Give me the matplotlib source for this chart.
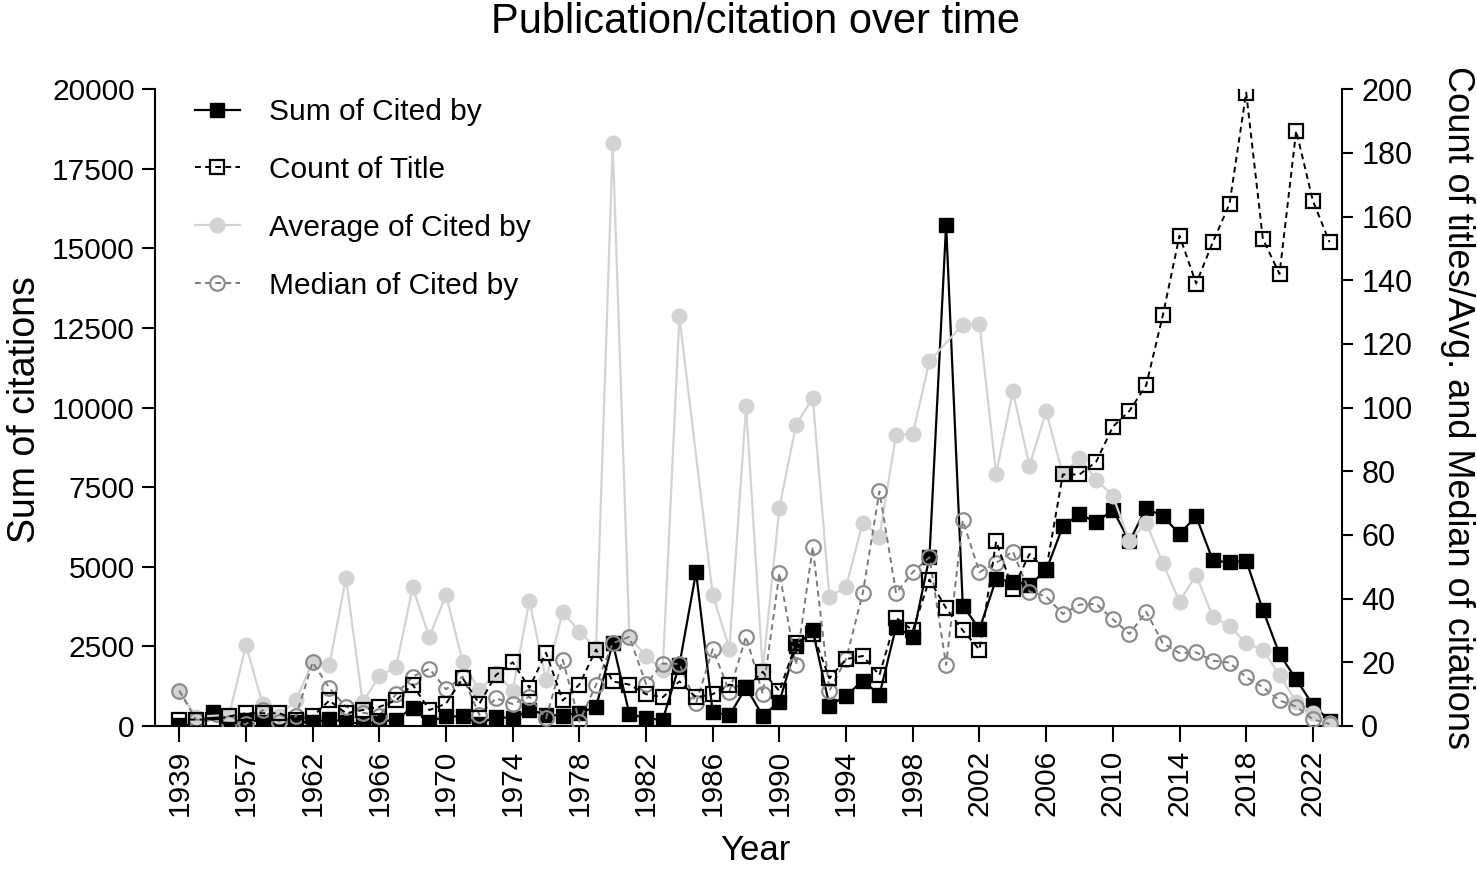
import numpy as np
import matplotlib
matplotlib.use("Agg")
import matplotlib.pyplot as plt

plt.rcParams["font.family"] = ["Liberation Sans", "DejaVu Sans"]

# categories (years with at least one paper)
years = [1939, 1947, 1952, 1955, 1957, 1958, 1959, 1960] + list(range(1962, 2024))

# left axis: total citations per year
sum_cited = [22, 30, 440, 135, 190, 135, 135, 120, 120, 210,
             135, 60, 135, 190, 580, 135, 300, 300, 70, 290,
             240, 500, 360, 315, 420, 588, 2620, 377, 242, 190,
             1919, 4830, 430, 330, 1217, 315, 765, 2520, 3000, 640,
             945, 1425, 975, 3120, 2790, 5305, 15750, 3784, 3040, 4613,
             4538, 4434, 4884, 6268, 6667, 6395, 6793, 5797, 6846, 6583,
             6038, 6583, 5200, 5137, 5190, 3648, 2254, 1468, 660, 167]

# right axis: number of titles
count_title = [2, 2, 2, 3, 4, 4, 4, 2, 3, 8,
               4, 5, 6, 8, 13, 5, 7, 15, 7, 16,
               20, 12, 23, 8, 13, 24, 14, 13, 10, 9,
               14, 9, 10, 13, 12, 17, 11, 26, 29, 15,
               21, 22, 16, 34, 30, 46, 37, 30, 24, 58,
               43, 54, 49, 79, 79, 83, 94, 99, 107, 129,
               154, 139, 152, 164, 199, 153, 142, 187, 165, 152]

# right axis: average citations (nan = not shown on chart)
avg_cited = [11.1, 2.9, np.nan, 3.5, 25.4, 6.9, 3.0, 8.2, 20.1, 19.1,
             46.4, 7.4, 15.7, 18.4, 43.6, 27.9, 41.2, 20.1, 11.2, 16.5,
             11.1, 39.4, 14.5, 35.9, 29.6, 24.4, 183.2, 27.9, 22.0, 17.5,
             128.7, np.nan, 41.2, 24.3, 100.4, 17.5, 68.6, 94.7, 103.0, 40.5,
             43.8, 63.9, 59.5, 91.5, 91.7, 114.6, np.nan, 126.1, 126.4, 79.2,
             105.1, 81.8, 98.8, 79.0, 84.2, 77.4, 72.3, 58.0, 63.9, 51.2,
             39.1, 47.5, 34.2, 31.4, 26.0, 23.9, 16.0, 7.6, 4.0, 0.8]

# right axis: median citations
median_cited = [11.1, 2.0, np.nan, 1.0, 0.5, 5.0, 1.4, 3.0, 20.0, 11.9,
                6.0, 4.2, 3.2, 10.0, 15.5, 18.0, 11.5, 15.5, 3.5, 8.7,
                6.9, 9.2, 2.4, 20.8, 1.4, 12.9, 26.0, 28.0, 13.2, 19.6,
                19.5, 7.2, 24.1, 10.8, 28.1, 10.1, 48.0, 19.2, 56.2, 11.1,
                21.0, 41.7, 73.7, 41.7, 48.3, 53.0, 19.2, 64.6, 48.3, 51.2,
                54.8, 42.2, 40.7, 35.2, 38.1, 38.4, 33.5, 28.9, 35.9, 26.0,
                22.9, 23.1, 20.5, 19.9, 15.3, 12.2, 8.0, 6.1, 2.1, 0.6]

x = np.arange(len(years))
avg_arr = np.array(avg_cited)
med_arr = np.array(median_cited)
m_avg = ~np.isnan(avg_arr)
m_med = ~np.isnan(med_arr)

fig = plt.figure(figsize=(14.77, 8.69), dpi=100)
ax = fig.add_axes([0.1049, 0.1646, 0.8035, 0.7326])
ax2 = ax.twinx()

ms = 10
l_sum, = ax.plot(x, sum_cited, color="black", lw=1.6, marker="s", ms=ms,
                 label="Sum of Cited by")
l_avg, = ax2.plot(x[m_avg], avg_arr[m_avg], color="#d3d3d3", lw=1.6, marker="o",
                  ms=ms + 0.5, label="Average of Cited by")
l_med, = ax2.plot(x[m_med], med_arr[m_med], color="#7a7a7a", lw=1.4,
                  linestyle=(0, (3, 2.2)), marker="o", ms=ms + 0.5, mfc="none",
                  mec="#8c8c8c", mew=1.6, label="Median of Cited by")
l_cnt, = ax2.plot(x, count_title, color="black", lw=1.4, linestyle=(0, (3, 2.2)),
                  marker="s", ms=ms, mfc="none", mec="black", mew=1.6,
                  label="Count of Title")

ax.set_xlim(-1.46, 69.73)
ax.set_ylim(0, 20000)
ax2.set_ylim(0, 200)
ax.set_yticks(np.arange(0, 20001, 2500))
ax2.set_yticks(np.arange(0, 201, 20))
ax.set_xticks(x[::4])
ax.set_xticklabels([str(years[i]) for i in range(0, len(years), 4)], rotation=90)

for a in (ax, ax2):
    a.spines["top"].set_visible(False)
    for s in a.spines.values():
        s.set_linewidth(1.5)
ax.spines["right"].set_visible(False)
ax2.spines["left"].set_visible(False)
ax2.spines["bottom"].set_visible(False)

ax.tick_params(axis="y", direction="out", length=9.5, width=1.5, labelsize=21.5, pad=5)
ax.tick_params(axis="x", direction="out", length=11.3, width=1.5, labelsize=21.5, pad=6)
ax2.tick_params(axis="y", direction="out", length=8, width=1.5, labelsize=22, pad=6)

fig.text(755 / 1477, 1 - 22 / 869, "Publication/citation over time", fontsize=30,
         ha="center", va="center")
fig.text(25 / 1477, 1 - 410 / 869, "Sum of citations", fontsize=27,
         rotation=90, ha="center", va="center")
fig.text(1458 / 1477, 1 - 407 / 869, "Count of titles/Avg. and Median of citations",
         fontsize=26, rotation=270, ha="center", va="center")
fig.text(755 / 1477, 1 - 850 / 869, "Year", fontsize=25, ha="center", va="center")

fig.legend(handles=[l_sum, l_cnt, l_avg, l_med], loc="upper left",
           bbox_to_anchor=(195 / 1477, 1 - 98 / 869), frameon=False, borderpad=0,
           borderaxespad=0, handlelength=1.5, handletextpad=0.97, labelspacing=1.0,
           fontsize=21.5)

fig.savefig("out.png", dpi=100)
